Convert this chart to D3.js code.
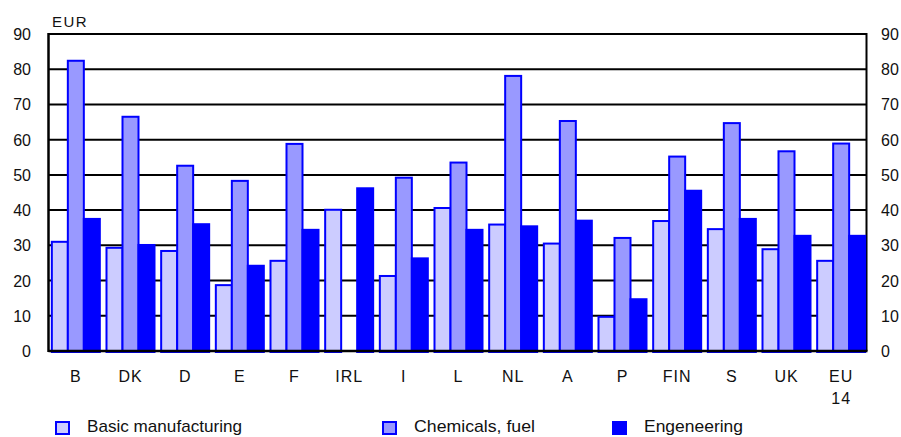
<!DOCTYPE html>
<html>
<head>
<meta charset="utf-8">
<script src="https://cdn.jsdelivr.net/npm/d3@7"></script>
<style>
  html, body { margin: 0; padding: 0; background: #fff; }
  svg { display: block; font-family: "Liberation Sans", Arial, sans-serif; }
</style>
</head>
<body>
<svg id="chart" width="901" height="437"></svg>
<script>
// Country codes along the x axis (EU 14 is split over two lines)
const categories = ["B", "DK", "D", "E", "F", "IRL", "I", "L", "NL", "A", "P", "FIN", "S", "UK", "EU 14"];
// Values in EUR per sector
const basicManufacturing = [31.0, 29.3, 28.4, 18.7, 25.6, 40.1, 21.3, 40.6, 35.9, 30.5, 9.7, 36.9, 34.6, 28.9, 25.6];
const chemicalsFuel      = [82.4, 66.5, 52.6, 48.3, 58.8, null, 49.2, 53.5, 78.1, 65.3, 32.1, 55.2, 64.7, 56.7, 58.9];
const engineering        = [37.5, 30.1, 36.0, 24.2, 34.4, 46.2, 26.3, 34.4, 35.4, 37.0, 14.7, 45.5, 37.5, 32.7, 32.7];
const yTicks = [0, 10, 20, 30, 40, 50, 60, 70, 80, 90];
const seriesNames = ["Basic manufacturing", "Chemicals, fuel", "Engeneering"];

const series = [
  { name: seriesNames[0], values: basicManufacturing, fill: "#ccccff" },
  { name: seriesNames[1], values: chemicalsFuel, fill: "#9999ff" },
  { name: seriesNames[2], values: engineering, fill: "#0000ff" }
];

const svg = d3.select("#chart");
const plotLeft = 48.5, plotRight = 866.5, plotTop = 34, plotBottom = 351;

const x = d3.scaleBand().domain(categories).range([plotLeft, plotRight + 2]).padding(0);
const y = d3.scaleLinear().domain([0, 90]).range([plotBottom, plotTop]);

// Horizontal gridlines
svg.append("g")
  .selectAll("line")
  .data(yTicks.filter(t => t > 0))
  .join("line")
  .attr("x1", plotLeft).attr("x2", plotRight)
  .attr("y1", d => y(d)).attr("y2", d => y(d))
  .attr("stroke", "#000").attr("stroke-width", 2);

// Right border of the plot
svg.append("line")
  .attr("x1", plotRight).attr("x2", plotRight)
  .attr("y1", plotTop - 1).attr("y2", plotBottom)
  .attr("stroke", "#000").attr("stroke-width", 2);

// Overlapping bars: each next series is shifted by less than the bar width
const barW = 18, barStep = 16;
const groupW = barStep * 2 + barW;
series.forEach((s, si) => {
  svg.append("g")
    .selectAll("rect")
    .data(categories.map((c, i) => ({ c, v: s.values[i] })).filter(d => d.v != null))
    .join("rect")
    .attr("x", d => x(d.c) + x.bandwidth() / 2 - groupW / 2 + si * barStep + 1)
    .attr("y", d => y(d.v))
    .attr("width", barW - 2)
    .attr("height", d => y(0) - y(d.v) + 1)
    .attr("fill", s.fill)
    .attr("stroke", "#0000ff")
    .attr("stroke-width", 2);
});

// Left axis line and base line
svg.append("line")
  .attr("x1", plotLeft).attr("x2", plotLeft)
  .attr("y1", plotTop - 1).attr("y2", plotBottom + 1)
  .attr("stroke", "#000").attr("stroke-width", 2.5);
svg.append("line")
  .attr("x1", plotLeft).attr("x2", plotRight + 1)
  .attr("y1", plotBottom).attr("y2", plotBottom)
  .attr("stroke", "#000").attr("stroke-width", 2.5);

// Tick labels on both sides
const tickFont = 16;
svg.append("g")
  .selectAll("text")
  .data(yTicks)
  .join("text")
  .attr("x", 31).attr("y", d => y(d) + 6)
  .attr("text-anchor", "end")
  .attr("font-size", tickFont)
  .attr("fill", "#111")
  .text(d => d);
svg.append("g")
  .selectAll("text")
  .data(yTicks)
  .join("text")
  .attr("x", 881).attr("y", d => y(d) + 6)
  .attr("font-size", tickFont)
  .attr("fill", "#111")
  .text(d => d);

// Unit label
svg.append("text")
  .attr("x", 52).attr("y", 26.5)
  .attr("font-size", 15)
  .attr("letter-spacing", 1.5)
  .attr("fill", "#111")
  .text("EUR");

// Category labels
const catG = svg.append("g");
categories.forEach(c => {
  const cx = x(c) + x.bandwidth() / 2;
  const parts = c.split(" ");
  parts.forEach((p, k) => {
    catG.append("text")
      .attr("x", cx).attr("y", 382 + k * 22)
      .attr("text-anchor", "middle")
      .attr("font-size", 16)
      .attr("letter-spacing", 1)
      .attr("fill", "#111")
      .text(p);
  });
});

// Legend
const legendX = [55, 382, 612];
const legendW = [155, 121, 99];
const lg = svg.append("g");
series.forEach((s, i) => {
  lg.append("rect")
    .attr("x", legendX[i] + 1).attr("y", 422)
    .attr("width", 13).attr("height", 12)
    .attr("fill", s.fill)
    .attr("stroke", "#0000ff")
    .attr("stroke-width", 2);
  lg.append("text")
    .attr("x", legendX[i] + 32).attr("y", 432)
    .attr("font-size", 17)
    .attr("textLength", legendW[i])
    .attr("lengthAdjust", "spacingAndGlyphs")
    .attr("fill", "#111")
    .text(s.name);
});
</script>
</body>
</html>
